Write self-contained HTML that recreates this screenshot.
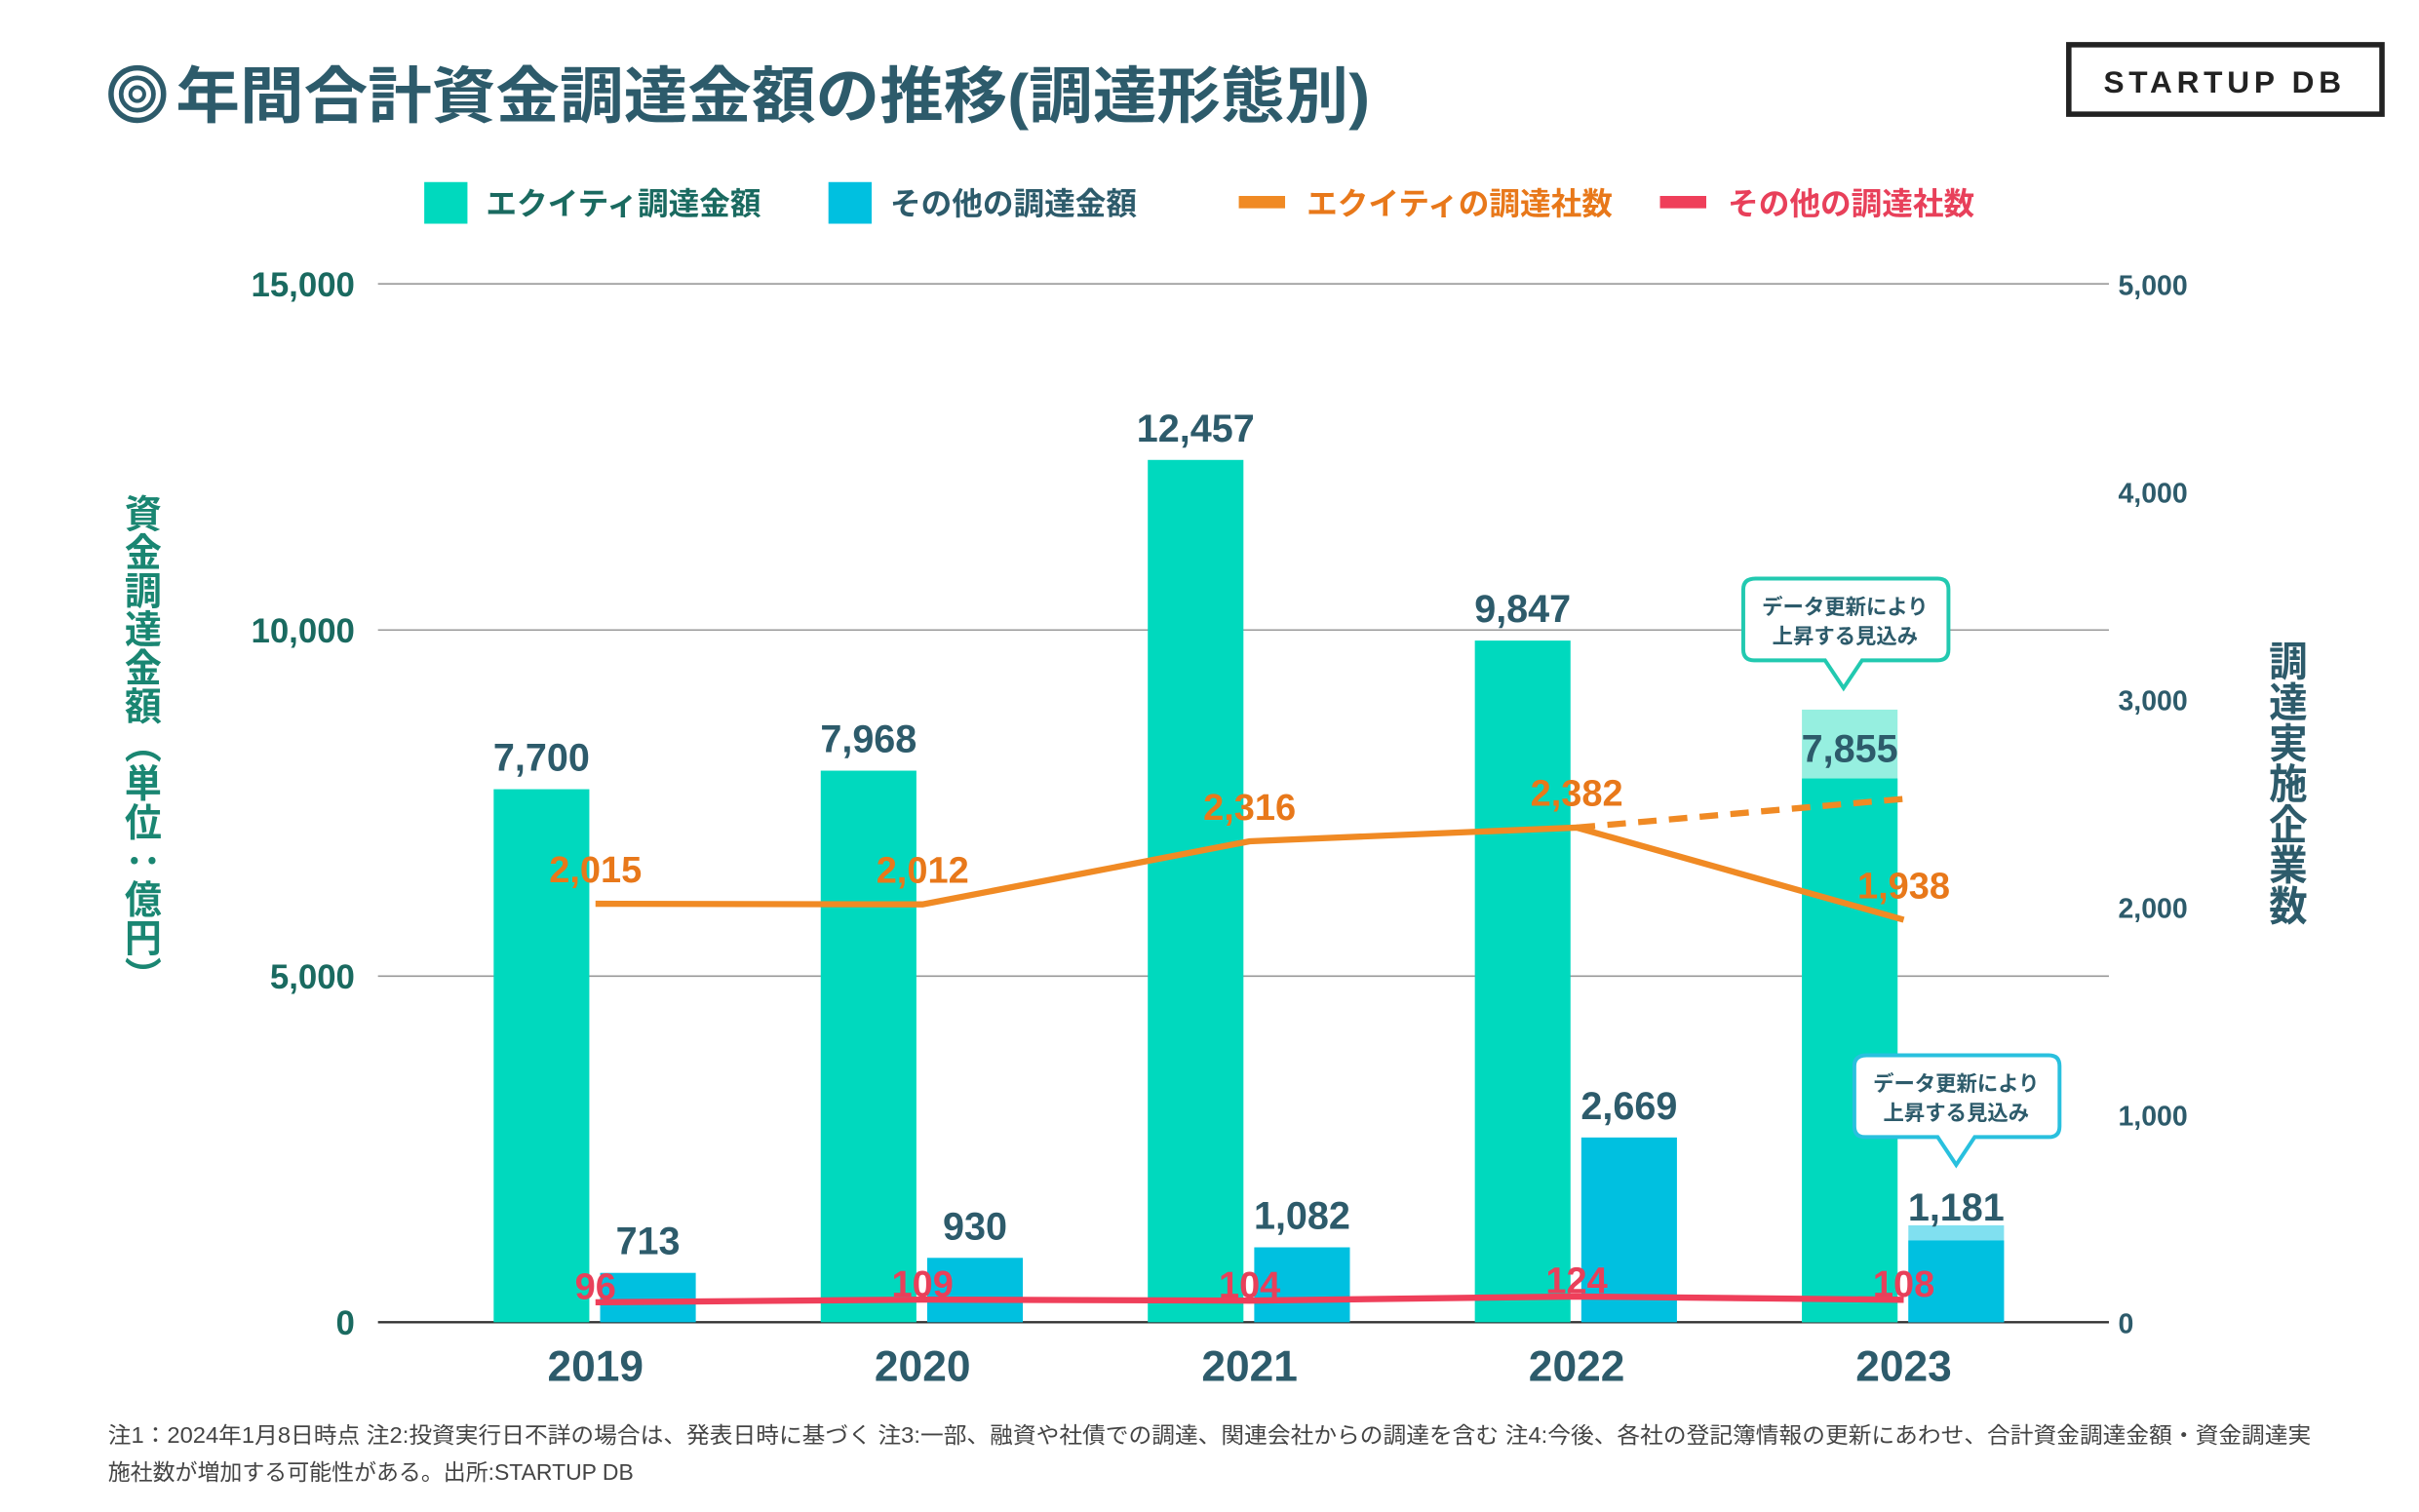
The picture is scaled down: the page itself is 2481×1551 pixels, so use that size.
<!DOCTYPE html>
<html><head><meta charset="utf-8"><style>
html,body{margin:0;padding:0;background:#fff;width:2481px;height:1551px;overflow:hidden}
svg{display:block}
text{font-family:"Liberation Sans","Noto Sans CJK JP",sans-serif}
.vt{writing-mode:vertical-rl;text-orientation:upright}
</style></head><body>
<svg id="c" width="2481" height="1551" viewBox="0 0 1568 980" preserveAspectRatio="none">
<g>
<circle cx="89" cy="61" r="17" fill="none" stroke="#2d5b6b" stroke-width="3.5"/>
<circle cx="89" cy="61" r="10.5" fill="none" stroke="#2d5b6b" stroke-width="3"/>
<circle cx="89" cy="61" r="4.5" fill="none" stroke="#2d5b6b" stroke-width="2.5"/>
<text x="114" y="76" font-size="40" font-weight="bold" fill="#2d5b6b" textLength="774" lengthAdjust="spacingAndGlyphs">年間合計資金調達金額の推移(調達形態別)</text>
</g>
<g>
<rect x="1341" y="29" width="203" height="45" fill="none" stroke="#222" stroke-width="3.5"/>
<text x="1442" y="60" font-size="20" font-weight="bold" fill="#222" text-anchor="middle" letter-spacing="3">STARTUP DB</text>
</g>
<g id="legend"></g>
<g id="grid"></g><g id="bars"></g><g id="lines"></g><g id="labels"></g>
<text class="vt" x="90" y="320" font-size="24" font-weight="bold" fill="#1a8672" textLength="325" lengthAdjust="spacingAndGlyphs">資金調達金額（単位：億円）</text>
<text class="vt" x="1481" y="415" font-size="25" font-weight="bold" fill="#2d5b6b" textLength="185" lengthAdjust="spacingAndGlyphs">調達実施企業数</text>
<g>
<path d="M1138,375 H1256 Q1263,375 1263,382 V421 Q1263,428 1256,428 H1207 L1195,446 L1183,428 H1137 Q1130,428 1130,421 V382 Q1130,375 1138,375Z" fill="#fff" stroke="#22c9b0" stroke-width="2.5"/>
<text x="1196" y="398" font-size="13.5" fill="#2d5b6b" text-anchor="middle" font-weight="bold">データ更新により</text>
<text x="1196" y="417" font-size="13.5" fill="#2d5b6b" text-anchor="middle" font-weight="bold">上昇する見込み</text>
</g>
<g>
<path d="M1210,684 H1328 Q1335,684 1335,691 V730 Q1335,737 1328,737 H1280 L1268,755 L1256,737 H1209 Q1202,737 1202,730 V691 Q1202,684 1210,684Z" fill="#fff" stroke="#29c0de" stroke-width="2.5"/>
<text x="1268" y="707" font-size="13.5" fill="#2d5b6b" text-anchor="middle" font-weight="bold">データ更新により</text>
<text x="1268" y="726" font-size="13.5" fill="#2d5b6b" text-anchor="middle" font-weight="bold">上昇する見込み</text>
</g>
<g font-size="14.5" fill="#444">
<text x="70" y="935" textLength="1428" lengthAdjust="spacingAndGlyphs">注1：2024年1月8日時点 注2:投資実行日不詳の場合は、発表日時に基づく 注3:一部、融資や社債での調達、関連会社からの調達を含む 注4:今後、各社の登記簿情報の更新にあわせ、合計資金調達金額・資金調達実</text>
<text x="70" y="959">施社数が増加する可能性がある。出所:STARTUP DB</text>
</g>
</svg>
<script>
const years=["2019","2020","2021","2022","2023"];
const equityAmt=[7700,7968,12457,9847,7855];
const otherAmt=[713,930,1082,2669,1181];
const equityProjected=[null,null,null,null,8850];
const otherProjected=[null,null,null,null,1400];
const equityCount=[2015,2012,2316,2382,1938];
const equityCountProjected=[null,null,null,2382,2520];
const otherCount=[96,109,104,124,108];
const leftTicks=[0,5000,10000,15000];
const rightTicks=[0,1000,2000,3000,4000,5000];
const NS="http://www.w3.org/2000/svg";
const x0=245,x1=1367,yB=857,yT=184;
const yL=v=>yB-(v/15000)*(yB-yT);
const yR=v=>yB-(v/5000)*(yB-yT);
const xC=i=>386+i*212;
const fmt=v=>v.toLocaleString("en-US");
function mk(p,tag,at,txt){const e=document.createElementNS(NS,tag);for(const k in at)e.setAttribute(k,at[k]);if(txt!=null)e.textContent=txt;document.getElementById(p).appendChild(e);return e;}
const leg=[["エクイティ調達金額","#00d9be","#1a6a60","sq",275],["その他の調達金額","#00c0e0","#2d5b6b","sq",537],["エクイティの調達社数","#f08a24","#e8781a","ln",803],["その他の調達社数","#ef3f5a","#e8405a","ln",1076]];
leg.forEach(l=>{
 let m=l[3]=="sq"?mk("legend","rect",{x:l[4],y:118,width:28,height:27,fill:l[1]}):mk("legend","rect",{x:l[4],y:127,width:30,height:8,fill:l[1]});
 
 
 let t=mk("legend","text",{x:l[4]+(l[3]=="sq"?40:44),y:139,"font-size":20,"font-weight":"bold",fill:l[2]},l[0]);
 
 
});
leftTicks.forEach(v=>{
 let g=mk("grid","line",{x1:x0,x2:x1,y1:yL(v),y2:yL(v),stroke:v==0?"#333":"#999","stroke-width":v==0?1.5:1});
 
 
 let t=mk("grid","text",{x:230,y:yL(v)+8,"font-size":22,"font-weight":"bold",fill:"#1a6a60","text-anchor":"end"},fmt(v));
 
 
});
rightTicks.forEach(v=>{
 let t=mk("grid","text",{x:1373,y:yR(v)+7,"font-size":18,"font-weight":"bold",fill:"#2d5b6b"},fmt(v));
 
 
});
years.forEach((y,i)=>{
 let t=mk("labels","text",{x:xC(i),y:895,"font-size":28,"font-weight":"bold",fill:"#2d5b6b","text-anchor":"middle"},y);
 
 
});
years.forEach((y,i)=>{
 const ex=xC(i)-66, ox=xC(i)+3, w=62;
 if(equityProjected[i]!=null){let p=mk("bars","rect",{x:ex,y:yL(equityProjected[i]),width:w,height:yB-yL(equityProjected[i]),fill:"#96efe0"});
  
  }
 let b=mk("bars","rect",{x:ex,y:yL(equityAmt[i]),width:w,height:yB-yL(equityAmt[i]),fill:"#00d9be"});
 
 
 if(otherProjected[i]!=null){let p=mk("bars","rect",{x:ox,y:yL(otherProjected[i]),width:w,height:yB-yL(otherProjected[i]),fill:"#80e0f0"});
  
  }
 let c=mk("bars","rect",{x:ox,y:yL(otherAmt[i]),width:w,height:yB-yL(otherAmt[i]),fill:"#00c0e0"});
 
 
 const topE=equityProjected[i]!=null?yL(equityProjected[i])+34:yL(equityAmt[i])-12;
 let t=mk("labels","text",{x:ex+w/2,y:topE,"font-size":25,"font-weight":"bold",fill:"#2d5b6b","text-anchor":"middle"},fmt(equityAmt[i]));
 
 
 const topO=otherProjected[i]!=null?yL(otherProjected[i])-3:yL(otherAmt[i])-12;
 let u=mk("labels","text",{x:ox+w/2,y:topO,"font-size":25,"font-weight":"bold",fill:"#2d5b6b","text-anchor":"middle"},fmt(otherAmt[i]));
 
 
});
const pts=(arr)=>arr.map((v,i)=>v==null?null:[xC(i),yR(v)]).filter(p=>p).map(p=>p.join(",")).join(" ");
let dl=mk("lines","polyline",{points:pts(equityCountProjected),fill:"none",stroke:"#f08a24","stroke-width":4,"stroke-dasharray":"12,8"});


let el=mk("lines","polyline",{points:pts(equityCount),fill:"none",stroke:"#f08a24","stroke-width":4});


let rl=mk("lines","polyline",{points:pts(otherCount),fill:"none",stroke:"#ef3f5a","stroke-width":4});


years.forEach((y,i)=>{
 let t=mk("labels","text",{x:xC(i),y:yR(equityCount[i])-14,"font-size":24,"font-weight":"bold",fill:"#e8781a","text-anchor":"middle"},fmt(equityCount[i]));
 
 
 let r=mk("labels","text",{x:xC(i),y:yR(otherCount[i])-2,"font-size":24,"font-weight":"bold",fill:"#e8405a","text-anchor":"middle"},fmt(otherCount[i]));
 
 
});
</script>
</body></html>
